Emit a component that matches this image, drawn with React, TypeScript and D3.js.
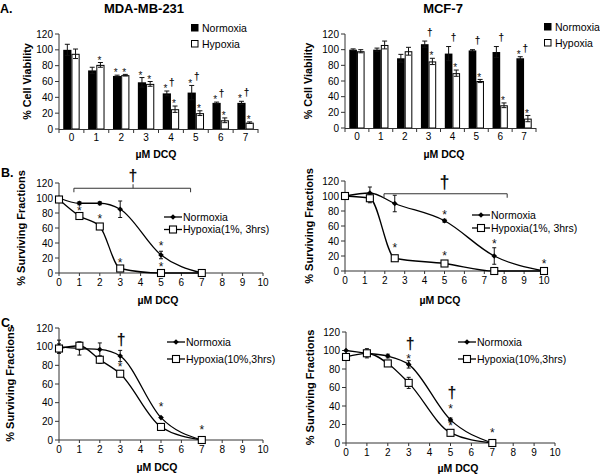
import React from 'react';
import * as d3 from 'd3';

// ---------- Panel A data ----------
const barCats = ['0', '1', '2', '3', '4', '5', '6', '7'];
const yTickVals = [0, 20, 40, 60, 80, 100, 120];

const mdaNorm = [100, 74, 67, 59, 45, 46, 33, 33];
const mdaNormErr = [7, 4, 1, 6, 3, 9, 1, 2];
const mdaHyp = [95, 81, 68, 57, 25, 20, 11, 8];
const mdaHypErr = [6, 3, 1, 3, 4, 3, 3, 1];
const mdaNormStar = [0, 0, 1, 1, 1, 1, 1, 1];
const mdaHypStar = [0, 1, 1, 1, 1, 1, 1, 1];
const mdaDagger = [0, 0, 0, 0, 1, 1, 1, 1];

const mcfNorm = [100, 100, 89, 107, 95, 99, 97, 89];
const mcfNormErr = [1, 2, 5, 4, 9, 1, 7, 2];
const mcfHyp = [98, 106, 98, 85, 70, 60, 29, 12];
const mcfHypErr = [2, 5, 5, 4, 4, 2, 3, 4];
const mcfNormStar = [0, 0, 0, 0, 0, 0, 0, 1];
const mcfHypStar = [0, 0, 0, 1, 1, 1, 1, 1];
const mcfDagger = [0, 0, 0, 1, 1, 1, 1, 1];

// ---------- Panel B / C data ----------
const xTickVals = [0, 1, 2, 3, 4, 5, 6, 7, 8, 9, 10];

const bLeftX = [0, 1, 2, 3, 5, 7];
const bLeftNorm = [100, 93, 93, 85, 24, 0];
const bLeftNormErr = [2, 2, 2, 11, 5, 0];
const bLeftHyp = [98, 76, 62, 6, 0, 0];
const bLeftHypErr = [2, 1, 2, 1, 0, 0];
const bLeftStars: [number, number][] = [[1, 87], [2, 76], [3, 17], [5, 40], [5, 12]];

const bRightX = [0, 1.25, 2.5, 5, 7.5, 10];
const bRightNorm = [100, 104, 90, 67, 20, 0];
const bRightNormErr = [1, 8, 11, 2, 11, 0];
const bRightHyp = [100, 97, 17, 10, 0, 0];
const bRightHypErr = [1, 6, 2, 1, 0, 0];
const bRightStars: [number, number][] = [[2.5, 35], [5, 79], [5, 24], [7.5, 40], [10, 13]];

const cLeftX = [0, 1, 2, 3, 5, 7];
const cLeftNorm = [100, 98, 97, 90, 24, 0];
const cLeftNormErr = [7, 7, 7, 6, 1, 0];
const cLeftHyp = [98, 101, 86, 71, 14, 0];
const cLeftHypErr = [5, 4, 4, 2, 1, 0];
const cLeftStars: [number, number][] = [[3, 81], [5, 38], [7, 14]];
const cLeftDaggers: [number, number][] = [[3.05, 107]];

const cRightX = [0, 1, 2, 3, 5, 7];
const cRightNorm = [100, 97, 94, 85, 25, 0];
const cRightNormErr = [1, 2, 2, 4, 2, 0];
const cRightHyp = [93, 97, 86, 65, 11, 0];
const cRightHypErr = [3, 5, 3, 6, 2, 0];
const cRightStars: [number, number][] = [[3, 94], [5, 40], [5, 21], [7, 14]];
const cRightDaggers: [number, number][] = [[3.07, 106], [5.07, 53]];

const FONT = '"Liberation Sans", Arial, Helvetica, sans-serif';
const AX = '#333';

function Star({ x, y, size = 11 }: { x: number; y: number; size?: number }) {
  // y = visual centre of the asterisk
  return (
    <text x={x} y={y + size * 0.57} fontSize={size} textAnchor="middle" fontFamily={FONT} fill="#111">*</text>
  );
}

function Dagger({ x, y, size = 11 }: { x: number; y: number; size?: number }) {
  // y = visual centre of the dagger
  return (
    <text x={x} y={y + size * 0.28} fontSize={size} fontWeight="bold" textAnchor="middle" fontFamily={FONT} fill="#111">†</text>
  );
}

function ErrBar({ x, y0, y1, cap = 2.5 }: { x: number; y0: number; y1: number; cap?: number }) {
  return (
    <g stroke="#111" strokeWidth={1}>
      <line x1={x} x2={x} y1={y0} y2={y1} />
      <line x1={x - cap} x2={x + cap} y1={y0} y2={y0} />
      <line x1={x - cap} x2={x + cap} y1={y1} y2={y1} />
    </g>
  );
}

type BarCfg = {
  left: number; right: number; top: number; bottom: number;
  title: string; titleX: number;
  legX: number; legY: number;
  yLabelX: number; xLabelX: number;
  norm: number[]; normErr: number[]; hyp: number[]; hypErr: number[];
  normStar: number[]; hypStar: number[]; dagger: number[];
  barFrac: number;
};

function BarPanel({ c }: { c: BarCfg }) {
  const x = d3.scaleBand<string>().domain(barCats).range([c.left, c.right]);
  const y = d3.scaleLinear().domain([0, 120]).range([c.bottom, c.top]);
  const bw = x.bandwidth() * c.barFrac;
  const boundaries = d3.range(barCats.length + 1).map((i) => c.left + i * x.bandwidth());
  return (
    <g fontFamily={FONT}>
      <text x={c.titleX} y={13} fontSize={13} fontWeight="bold" textAnchor="middle">{c.title}</text>
      {barCats.map((k, i) => {
        const cx = x(k)! + x.bandwidth() / 2;
        const nx = cx - bw;
        const hx = cx;
        const nTop = c.norm[i] + c.normErr[i];
        const hTop = c.hyp[i] + c.hypErr[i];
        return (
          <g key={k}>
            <rect x={nx} y={y(c.norm[i])} width={bw} height={c.bottom - y(c.norm[i])} fill="#000" />
            <rect x={hx + 0.5} y={y(c.hyp[i]) + 0.5} width={bw - 1} height={c.bottom - y(c.hyp[i]) - 0.5} fill="#fff" stroke="#000" strokeWidth={1} />
            <ErrBar x={nx + bw / 2} y0={y(nTop)} y1={y(c.norm[i] - c.normErr[i])} />
            <ErrBar x={hx + bw / 2} y0={y(hTop)} y1={y(c.hyp[i] - c.hypErr[i])} />
            {c.normStar[i] ? <Star x={nx + bw / 2 - 1.5} y={y(nTop) - 4.5} size={10} /> : null}
            {c.hypStar[i] ? <Star x={hx + bw / 2 - 1} y={y(hTop) - 4.5} size={10} /> : null}
            {c.dagger[i] ? <Dagger x={nx + bw / 2 + 5} y={y(nTop) - 8} size={10} /> : null}
          </g>
        );
      })}
      <line x1={c.left} x2={c.left} y1={c.top} y2={c.bottom} stroke={AX} />
      <line x1={c.left} x2={c.right} y1={c.bottom + 0.5} y2={c.bottom + 0.5} stroke={AX} />
      {yTickVals.map((v) => (
        <g key={v}>
          <line x1={c.left - 4} x2={c.left} y1={y(v)} y2={y(v)} stroke={AX} />
          <text x={c.left - 6} y={y(v) + 3.5} fontSize={10} textAnchor="end">{v}</text>
        </g>
      ))}
      {boundaries.map((bx, i) => (
        <line key={i} x1={bx} x2={bx} y1={c.bottom} y2={c.bottom + 4} stroke={AX} />
      ))}
      {barCats.map((k) => (
        <text key={k} x={x(k)! + x.bandwidth() / 2} y={c.bottom + 12} fontSize={10} textAnchor="middle">{k}</text>
      ))}
      <text x={c.xLabelX} y={158} fontSize={10.5} fontWeight="bold" textAnchor="middle">µM DCQ</text>
      <text transform={`translate(${c.yLabelX},${(c.top + c.bottom) / 2}) rotate(-90)`} fontSize={10.8} fontWeight="bold" textAnchor="middle" dy="0.35em">% Cell Viability</text>
      <rect x={c.legX} y={c.legY} width={7.5} height={7.5} fill="#000" />
      <text x={c.legX + 11} y={c.legY + 8} fontSize={10.5}>Normoxia</text>
      <rect x={c.legX + 0.5} y={c.legY + 16.5} width={6.5} height={6.5} fill="#fff" stroke="#000" />
      <text x={c.legX + 11} y={c.legY + 24} fontSize={10.5}>Hypoxia</text>
    </g>
  );
}

type LineCfg = {
  left: number; right: number; top: number; bottom: number;
  xs: number[]; norm: number[]; normErr: number[]; hyp: number[]; hypErr: number[];
  stars: [number, number][];
  daggers: [number, number][];
  daggerSize: number;
  bracket?: { x0: number; x1: number; y: number; mid: number; tick: boolean };
  legX: number; legY: number; legGap: number; hypLabel: string;
  yLabelX: number; xLabelX: number; xLabelY: number;
};

function Diamond({ x, y, r = 2.8 }: { x: number; y: number; r?: number }) {
  return <path d={`M${x},${y - r}L${x + r},${y}L${x},${y + r}L${x - r},${y}Z`} fill="#000" />;
}
function Square({ x, y, s = 7 }: { x: number; y: number; s?: number }) {
  return <rect x={x - s / 2} y={y - s / 2} width={s} height={s} fill="#fff" stroke="#000" strokeWidth={1.1} />;
}

function LinePanel({ c }: { c: LineCfg }) {
  const x = d3.scaleLinear().domain([0, 10]).range([c.left, c.right]);
  const y = d3.scaleLinear().domain([0, 120]).range([c.bottom, c.top]);
  const mk = (vals: number[]) =>
    d3.line<[number, number]>().x((d) => x(d[0])).y((d) => y(d[1])).curve(d3.curveMonotoneX)(
      c.xs.map((v, i) => [v, vals[i]] as [number, number])
    ) || '';
  return (
    <g fontFamily={FONT}>
      <line x1={c.left} x2={c.left} y1={c.top} y2={c.bottom} stroke={AX} />
      <line x1={c.left} x2={c.right} y1={c.bottom} y2={c.bottom} stroke={AX} />
      {yTickVals.map((v) => (
        <g key={v}>
          <line x1={c.left - 4} x2={c.left} y1={y(v)} y2={y(v)} stroke={AX} />
          <text x={c.left - 6} y={y(v) + 3.5} fontSize={10} textAnchor="end">{v}</text>
        </g>
      ))}
      {xTickVals.map((v) => (
        <g key={v}>
          <line x1={x(v)} x2={x(v)} y1={c.bottom} y2={c.bottom + 3} stroke={AX} />
          <text x={x(v)} y={c.bottom + 13} fontSize={10} textAnchor="middle">{v}</text>
        </g>
      ))}
      <text x={c.xLabelX} y={c.xLabelY} fontSize={10.5} fontWeight="bold" textAnchor="middle">µM DCQ</text>
      <text transform={`translate(${c.yLabelX},${(c.top + c.bottom) / 2}) rotate(-90)`} fontSize={11} fontWeight="bold" textAnchor="middle" dy="0.35em">% Surviving Fractions</text>
      <path d={mk(c.norm)} fill="none" stroke="#000" strokeWidth={1.3} />
      <path d={mk(c.hyp)} fill="none" stroke="#000" strokeWidth={1.3} />
      {c.xs.map((v, i) => (
        <g key={`e${i}`}>
          {c.normErr[i] > 1 ? <ErrBar x={x(v)} y0={y(c.norm[i] + c.normErr[i])} y1={y(c.norm[i] - c.normErr[i])} cap={2} /> : null}
          {c.hypErr[i] > 1 ? <ErrBar x={x(v)} y0={y(c.hyp[i] + c.hypErr[i])} y1={y(c.hyp[i] - c.hypErr[i])} cap={2} /> : null}
        </g>
      ))}
      {c.xs.map((v, i) => <Diamond key={`n${i}`} x={x(v)} y={y(c.norm[i])} />)}
      {c.xs.map((v, i) => <Square key={`h${i}`} x={x(v)} y={y(c.hyp[i])} />)}
      {c.stars.map((s, i) => <Star key={`s${i}`} x={x(s[0])} y={y(s[1])} size={12} />)}
      {c.daggers.map((d, i) => <Dagger key={`d${i}`} x={x(d[0])} y={y(d[1])} size={c.daggerSize} />)}
      {c.bracket ? (
        <g stroke="#333" fill="none">
          <path d={`M${x(c.bracket.x0)},${y(c.bracket.y) + 4}V${y(c.bracket.y)}H${x(c.bracket.x1)}V${y(c.bracket.y) + 4}`} />
          {c.bracket.tick ? <line x1={x(c.bracket.mid)} x2={x(c.bracket.mid)} y1={y(c.bracket.y)} y2={y(c.bracket.y) - 4} /> : null}
        </g>
      ) : null}
      <line x1={c.legX} x2={c.legX + 18} y1={c.legY} y2={c.legY} stroke="#000" strokeWidth={1.3} />
      <Diamond x={c.legX + 9} y={c.legY} />
      <text x={c.legX + 19} y={c.legY + 3.8} fontSize={10.5}>Normoxia</text>
      <line x1={c.legX} x2={c.legX + 18} y1={c.legY + c.legGap} y2={c.legY + c.legGap} stroke="#000" strokeWidth={1.3} />
      <Square x={c.legX + 9} y={c.legY + c.legGap} />
      <text x={c.legX + 19} y={c.legY + c.legGap + 3.8} fontSize={10.5}>{c.hypLabel}</text>
    </g>
  );
}

const aLeft: BarCfg = {
  left: 59, right: 258, top: 34, bottom: 129, title: 'MDA-MB-231', titleX: 144,
  legX: 191, legY: 24, yLabelX: 27, xLabelX: 156,
  norm: mdaNorm, normErr: mdaNormErr, hyp: mdaHyp, hypErr: mdaHypErr,
  normStar: mdaNormStar, hypStar: mdaHypStar, dagger: mdaDagger, barFrac: 0.33,
};
const aRight: BarCfg = {
  left: 345, right: 536, top: 34, bottom: 128, title: 'MCF-7', titleX: 443,
  legX: 544, legY: 23, yLabelX: 308, xLabelX: 444,
  norm: mcfNorm, normErr: mcfNormErr, hyp: mcfHyp, hypErr: mcfHypErr,
  normStar: mcfNormStar, hypStar: mcfHypStar, dagger: mcfDagger, barFrac: 0.32,
};

const bLeft: LineCfg = {
  left: 59, right: 263, top: 183, bottom: 273,
  xs: bLeftX, norm: bLeftNorm, normErr: bLeftNormErr, hyp: bLeftHyp, hypErr: bLeftHypErr,
  stars: bLeftStars, daggers: [[3.63, 129]], daggerSize: 16,
  bracket: { x0: 0.73, x1: 6.45, y: 113, mid: 3.63, tick: true },
  legX: 164, legY: 217, legGap: 12.5, hypLabel: 'Hypoxia(1%, 3hrs)',
  yLabelX: 21, xLabelX: 158, xLabelY: 304,
};
const bRight: LineCfg = {
  left: 345, right: 544, top: 181, bottom: 271,
  xs: bRightX, norm: bRightNorm, normErr: bRightNormErr, hyp: bRightHyp, hypErr: bRightHypErr,
  stars: bRightStars, daggers: [[5, 118]], daggerSize: 18,
  bracket: { x0: 1.96, x1: 8.15, y: 103, mid: 5, tick: false },
  legX: 472, legY: 215, legGap: 13, hypLabel: 'Hypoxia(1%, 3hrs)',
  yLabelX: 309, xLabelX: 440, xLabelY: 304,
};
const cLeft: LineCfg = {
  left: 59, right: 263, top: 328, bottom: 440,
  xs: cLeftX, norm: cLeftNorm, normErr: cLeftNormErr, hyp: cLeftHyp, hypErr: cLeftHypErr,
  stars: cLeftStars, daggers: cLeftDaggers, daggerSize: 16,
  legX: 167, legY: 342, legGap: 17, hypLabel: 'Hypoxia(10%,3hrs)',
  yLabelX: 10, xLabelX: 157, xLabelY: 471,
};
const cRight: LineCfg = {
  left: 346, right: 555, top: 332, bottom: 443,
  xs: cRightX, norm: cRightNorm, normErr: cRightNormErr, hyp: cRightHyp, hypErr: cRightHypErr,
  stars: cRightStars, daggers: cRightDaggers, daggerSize: 16,
  legX: 458, legY: 342, legGap: 17, hypLabel: 'Hypoxia(10%,3hrs)',
  yLabelX: 310, xLabelX: 458, xLabelY: 472,
};

export default function App() {
  return (
    <svg width={600} height={476} style={{ position: 'absolute', left: 0, top: 0, background: '#fff' }} fontFamily={FONT}>
      <rect width={600} height={476} fill="#fff" />
      <text x={0} y={13} fontSize={12.5} fontWeight="bold" fontFamily={FONT}>A.</text>
      <text x={1} y={177} fontSize={12.5} fontWeight="bold" fontFamily={FONT}>B.</text>
      <text x={1} y={327} fontSize={12.5} fontWeight="bold" fontFamily={FONT}>C.</text>
      <BarPanel c={aLeft} />
      <BarPanel c={aRight} />
      <LinePanel c={bLeft} />
      <LinePanel c={bRight} />
      <LinePanel c={cLeft} />
      <LinePanel c={cRight} />
    </svg>
  );
}
